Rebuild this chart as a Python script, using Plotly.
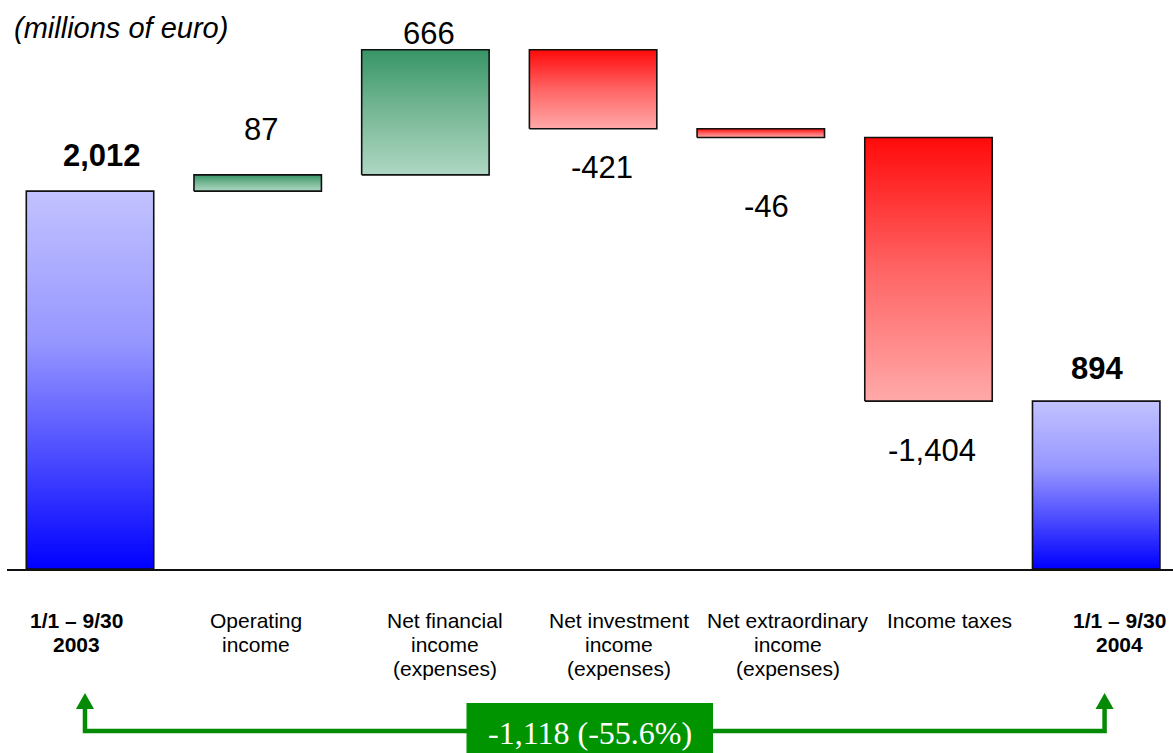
import plotly.graph_objects as go

# ---- data -------------------------------------------------------------
categories = [
    "<b>1/1 – 9/30</b><br><b>2003</b>",
    "Operating<br>income",
    "Net financial<br>income<br>(expenses)",
    "Net investment<br>income<br>(expenses)",
    "Net extraordinary<br>income<br>(expenses)",
    "Income taxes",
    "<b>1/1 – 9/30</b><br><b>2004</b>",
]
start_total = 2012
deltas = [87, 666, -421, -46, -1404]
end_total = 894

# ---- styling ----------------------------------------------------------
FONT = "Liberation Sans, Arial, sans-serif"
SERIF = "Liberation Serif, Times New Roman, serif"
HALF_W = 0.38
PLOT_H = 569          # plot area height in px (y = 0 at its bottom edge)
Y_MAX = 3030

BLUE = [[0, "#0000ff"], [0.3, "#4c4cff"], [0.6, "#9696ff"], [1, "#c2c2ff"]]
GREEN = [[0, "#aed7c3"], [0.5, "#78b896"], [1, "#379567"]]
RED = [[0, "#ffa9a9"], [0.5, "#ff6464"], [1, "#ff0a0a"]]

# value label placement (px): vertical distance from the bar edge
# (positive = above the top, negative = below the bottom) and sideways nudge
LABEL_SHIFT = [36, 45, 16, -39, -69, -49, 33]
LABEL_XSHIFT = [12, 3, 4, 9, 6, 3, 1]
# category caption placement: sideways nudge (px), first line y and line pitch (px)
CAT_XSHIFT = [-14, -2, 20, 26, 27, 21, 23]
CAT_TOP, CAT_PITCH = 620, 24

# ---- waterfall geometry from the data ---------------------------------
lows, highs, values, scales, bold = [], [], [], [], []
lows.append(0); highs.append(start_total); values.append(start_total)
scales.append(BLUE); bold.append(True)
level = start_total
for d in deltas:
    new = level + d
    lows.append(min(level, new)); highs.append(max(level, new))
    values.append(d); scales.append(GREEN if d > 0 else RED); bold.append(False)
    level = new
lows.append(0); highs.append(end_total); values.append(end_total)
scales.append(BLUE); bold.append(True)

fig = go.Figure()
for i, (lo, hi, cs) in enumerate(zip(lows, highs, scales)):
    fig.add_trace(go.Scatter(
        x=[i - HALF_W, i + HALF_W, i + HALF_W, i - HALF_W, i - HALF_W],
        y=[lo, lo, hi, hi, lo],
        mode="lines",
        fill="toself",
        fillgradient=dict(type="vertical", colorscale=cs),
        line=dict(color="#111111", width=1.6),
        hoverinfo="skip",
        showlegend=False,
    ))


def py(pix):
    """Vertical pixel position (from the top of the figure) to paper units."""
    return (PLOT_H - pix) / PLOT_H


annotations = []
for i, (v, lo, hi, b, sh, xs) in enumerate(
        zip(values, lows, highs, bold, LABEL_SHIFT, LABEL_XSHIFT)):
    txt = f"{v:,}"
    if b:
        txt = f"<b>{txt}</b>"
    annotations.append(dict(
        x=i, y=hi if sh > 0 else lo, xref="x", yref="y",
        text=txt, showarrow=False, yshift=sh, xshift=xs,
        xanchor="center", yanchor="middle",
        font=dict(family=FONT, size=31, color="black"),
    ))

# category captions under the axis, one text line at a time
for i, (cat, xs) in enumerate(zip(categories, CAT_XSHIFT)):
    for k, line in enumerate(cat.split("<br>")):
        annotations.append(dict(
            x=i, y=py(CAT_TOP + CAT_PITCH * k), xref="x", yref="paper",
            text=line, showarrow=False, xshift=xs,
            xanchor="center", yanchor="middle",
            font=dict(family=FONT, size=21, color="black"),
        ))

annotations.append(dict(
    x=0.0045, y=py(28), xref="paper", yref="paper",
    text="<i>(millions of euro)</i>", showarrow=False,
    xanchor="left", yanchor="middle",
    font=dict(family=FONT, size=29, color="black"),
))

# ---- overall change bracket -------------------------------------------
change = end_total - start_total
pct = change / start_total * 100
first, last = 0, len(categories) - 1
xl, xr = first - 0.03, last + 0.05
mid = (first + last) / 2 - 0.02
GREEN_LINE = "#058a05"

shapes = [
    dict(type="path", xref="x", yref="paper",
         path=f"M {xl},{py(707)} L {xl},{py(731)} L {xr},{py(731)} L {xr},{py(707)}",
         line=dict(color=GREEN_LINE, width=4.5)),
    dict(type="path", xref="x", yref="paper",
         path=f"M {xl},{py(693)} L {xl - 0.054},{py(709)} L {xl + 0.054},{py(709)} Z",
         fillcolor=GREEN_LINE, line=dict(color=GREEN_LINE, width=0)),
    dict(type="path", xref="x", yref="paper",
         path=f"M {xr},{py(693)} L {xr - 0.054},{py(709)} L {xr + 0.054},{py(709)} Z",
         fillcolor=GREEN_LINE, line=dict(color=GREEN_LINE, width=0)),
    dict(type="rect", xref="x", yref="paper",
         x0=mid - 0.735, x1=mid + 0.735, y0=py(703), y1=py(770),
         fillcolor="#009400", line=dict(width=0)),
]
annotations.append(dict(
    x=mid, y=py(733), xref="x", yref="paper",
    text=f"{change:,} ({pct:.1f}%)", showarrow=False,
    xanchor="center", yanchor="middle",
    font=dict(family=SERIF, size=32, color="white"),
))

fig.update_layout(
    width=1173, height=753,
    margin=dict(l=7, r=0, t=0, b=753 - PLOT_H),
    paper_bgcolor="white", plot_bgcolor="white",
    showlegend=False,
    annotations=annotations,
    shapes=shapes,
    xaxis=dict(
        range=[-0.495, 6.458],
        tickmode="array", tickvals=list(range(len(categories))),
        showticklabels=False,
        ticks="", showgrid=False, zeroline=False,
        showline=True, linecolor="#111111", linewidth=1.6,
        fixedrange=True,
    ),
    yaxis=dict(range=[0, Y_MAX], visible=False, fixedrange=True),
)

fig.write_html("out.html")
